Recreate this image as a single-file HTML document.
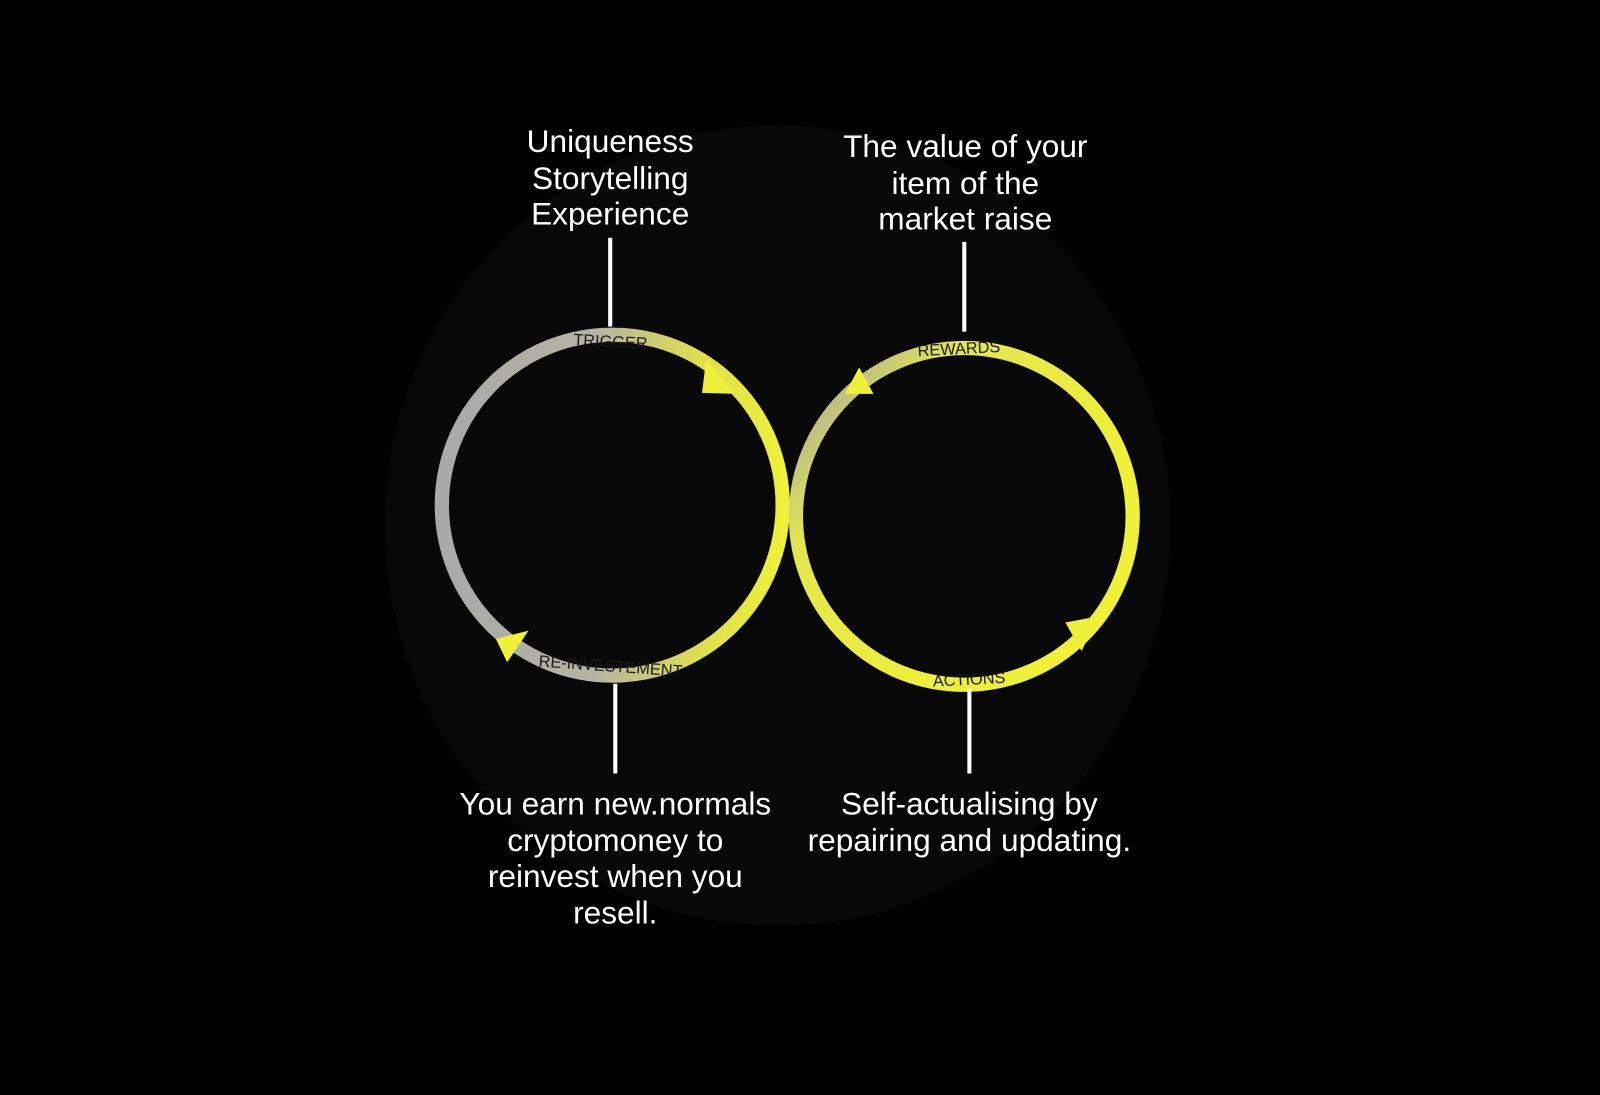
<!DOCTYPE html>
<html><head><meta charset="utf-8"><style>
html,body{margin:0;padding:0;background:#000;width:1600px;height:1095px;overflow:hidden}
svg{display:block}
text{font-family:"Liberation Sans",sans-serif}
</style></head><body>
<svg width="1600" height="1095" viewBox="0 0 1568 1073" preserveAspectRatio="none">
<defs>
<linearGradient id="gl" x1="432" y1="0" x2="768" y2="0" gradientUnits="userSpaceOnUse">
<stop offset="0" stop-color="#a9a9a9"/><stop offset="0.45" stop-color="#b4b4a4"/><stop offset="0.75" stop-color="#dede50"/><stop offset="1" stop-color="#eef03a"/>
</linearGradient>
<linearGradient id="gr" x1="780" y1="380" x2="1000" y2="560" gradientUnits="userSpaceOnUse">
<stop offset="0" stop-color="#a8a8a0"/><stop offset="0.35" stop-color="#e4e650"/><stop offset="1" stop-color="#eef03a"/>
</linearGradient>
</defs>
<rect width="1568" height="1073" fill="#000"/>
<ellipse cx="762" cy="515" rx="385" ry="392" fill="#080808"/>
<circle cx="600" cy="495" r="167" fill="none" stroke="url(#gl)" stroke-width="14"/>
<circle cx="945" cy="506" r="165" fill="none" stroke="url(#gr)" stroke-width="14"/>
<polygon points="692,352 720,386 688,385" fill="#eef03a"/>
<polygon points="828,386 842,360 856,386" fill="#eef03a"/>
<polygon points="1044,610 1076,604 1060,638" fill="#eef03a"/>
<polygon points="486,626 518,618 497,649" fill="#eef03a"/>
<g stroke="#fff" stroke-width="4">
<line x1="598" y1="233" x2="598" y2="320"/>
<line x1="945" y1="237" x2="945" y2="325"/>
<line x1="603" y1="670" x2="603" y2="758"/>
<line x1="950" y1="675" x2="950" y2="758"/>
</g>
<g fill="#1a1a1a" font-size="16">
<text x="598" y="340" text-anchor="middle" transform="rotate(3 598 340)">TRIGGER</text>
<text x="940" y="347" text-anchor="middle" transform="rotate(-3 940 347)">REWARDS</text>
<text x="598" y="658" text-anchor="middle" transform="rotate(4 598 658)">RE-INVESTEMENT</text>
<text x="950" y="671" text-anchor="middle" transform="rotate(-3 950 671)">ACTIONS</text>
</g>
<g fill="#fff" font-size="31" text-anchor="middle">
<text x="598" y="149">Uniqueness</text>
<text x="598" y="185">Storytelling</text>
<text x="598" y="220">Experience</text>
<text x="946" y="154">The value of your</text>
<text x="946" y="190">item of the</text>
<text x="946" y="225">market raise</text>
<text x="603" y="798">You earn new.normals</text>
<text x="603" y="834">cryptomoney to</text>
<text x="603" y="869">reinvest when you</text>
<text x="603" y="905">resell.</text>
<text x="950" y="798">Self-actualising by</text>
<text x="950" y="834">repairing and updating.</text>
</g>
</svg>
</body></html>
